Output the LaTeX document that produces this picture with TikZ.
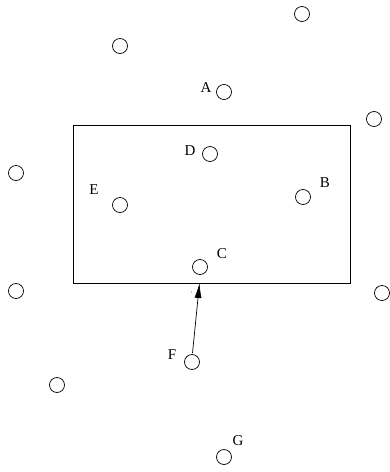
\documentclass[tikz,border=0pt]{standalone}
\usepackage{fontspec}
\setmainfont{Liberation Serif}
\usetikzlibrary{arrows.meta}
\begin{document}
\begin{tikzpicture}[x=1pt,y=-1pt,
  pt/.style={draw,circle,minimum size=15pt,inner sep=0pt,line width=0.7pt},
  lbl/.style={font=\fontsize{15}{17}\selectfont,inner sep=0pt},
  every path/.style={line width=0.7pt}]
\useasboundingbox (0,0) rectangle (389,472);
\node[draw,rectangle,line width=0.7pt,minimum width=277pt,minimum height=158pt,inner sep=0pt] (box) at (211.5,204) {};
\node[pt] (p1) at (302,14) {};
\node[pt] (p2) at (120,46) {};
\node[pt] (a) at (224,92) {};
\node[lbl] (la) at (206,88) {A};
\node[pt] (p3) at (374,119) {};
\node[pt] (d) at (210,154) {};
\node[lbl] (ld) at (190,151) {D};
\node[pt] (p4) at (16,173) {};
\node[pt] (e) at (120,205) {};
\node[lbl] (le) at (94,190) {E};
\node[pt] (b) at (303,197) {};
\node[lbl] (lb) at (325,183) {B};
\node[pt] (c) at (200,267) {};
\node[lbl] (lc) at (222,254) {C};
\node[pt] (p5) at (16,291) {};
\node[pt] (p6) at (382,293) {};
\node[pt] (f) at (192,362) {};
\node[lbl] (lf) at (172,355) {F};
\node[pt] (p7) at (57,385) {};
\node[pt] (g) at (224,457) {};
\node[lbl] (lg) at (238,441) {G};
\coordinate (tip) at (199.5,283);
\fill (191.5,292) circle (0.4pt);
\draw[-{Latex[length=15pt,width=7pt]}] (f.north) ++(0.5,-1) -- (tip);
\end{tikzpicture}
\end{document}
